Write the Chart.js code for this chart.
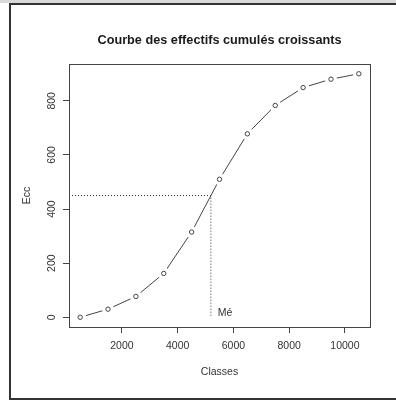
<!DOCTYPE html>
<html>
<head>
<meta charset="utf-8">
<script src="https://cdn.jsdelivr.net/npm/chart.js@4/dist/chart.umd.min.js"></script>
<style>
  html, body { margin: 0; padding: 0; background: #ffffff; }
  #wrap { position: relative; width: 396px; height: 401px; overflow: hidden; }
  #topband { position: absolute; left: 0; top: 0; width: 396px; height: 3px; background: #d9d9d9; }
  #frame { position: absolute; left: 9px; top: 3px; width: 420px; height: 393px;
           border-left: 2px solid #333; border-top: 2px solid #333; border-bottom: 2px solid #333;
           pointer-events: none; }
  canvas { position: absolute; left: 0; top: 0; }
</style>
</head>
<body>
<div id="wrap">
  <div id="topband"></div>
  <canvas id="chart" width="396" height="401"></canvas>
  <div id="frame"></div>
</div>
<script>
// Class centres and cumulative counts (effectifs cumulés croissants)
const classCenters = [500, 1500, 2500, 3500, 4500, 5500, 6500, 7500, 8500, 9500, 10500];
const cumulativeCounts = [0, 30, 77, 162, 315, 510, 678, 783, 849, 880, 900];

// Axis ticks
const xTickValues = [2000, 4000, 6000, 8000, 10000];
const yTickValues = [0, 200, 400, 600, 800];

// Axis limits (data range widened by 4 % on each side)
const xLimits = [100, 10900];
const yLimits = [-36, 936];

// Median reading: half of the total count and its class value
const halfTotal = 450;
const medianValue = 5190;
const medianLabel = 'Mé';

const FONT = '"Liberation Sans", Arial, sans-serif';
const INK = '#333333';

const points = classCenters.map((x, i) => ({ x: x, y: cumulativeCounts[i] }));
const medianPath = [
  { x: xLimits[0], y: halfTotal },
  { x: medianValue, y: halfTotal },
  { x: medianValue, y: 0 }
];

// Plot box and the median label
const boxAndLabel = {
  id: 'boxAndLabel',
  afterDatasetsDraw(chart) {
    const { ctx, chartArea: a, scales } = chart;
    ctx.save();
    ctx.strokeStyle = '#444';
    ctx.lineWidth = 1;
    ctx.strokeRect(Math.round(a.left) + 0.5, Math.round(a.top) + 0.5,
                   Math.round(a.right - a.left), Math.round(a.bottom - a.top));
    ctx.fillStyle = INK;
    ctx.font = '10.5px ' + FONT;
    ctx.textAlign = 'left';
    ctx.textBaseline = 'middle';
    ctx.fillText(medianLabel, scales.x.getPixelForValue(medianValue) + 7,
                 scales.y.getPixelForValue(15));
    ctx.restore();
  }
};

new Chart(document.getElementById('chart'), {
  type: 'line',
  data: {
    datasets: [
      {
        // open circles
        data: points,
        showLine: false,
        pointRadius: 2.2,
        pointHoverRadius: 2.2,
        pointBorderWidth: 1,
        pointBorderColor: '#444',
        pointBackgroundColor: 'rgba(0,0,0,0)',
        order: 0
      },
      {
        // connecting line, broken around each point
        data: points,
        borderColor: '#444',
        borderWidth: 1,
        tension: 0,
        pointRadius: 6,
        pointHoverRadius: 6,
        pointBorderWidth: 0,
        pointBackgroundColor: '#ffffff',
        order: 1
      },
      {
        // dotted median guides
        data: medianPath,
        borderColor: '#333',
        borderWidth: 1,
        borderDash: [1, 2],
        pointRadius: 0,
        tension: 0,
        order: 2
      }
    ]
  },
  plugins: [boxAndLabel],
  options: {
    responsive: false,
    animation: false,
    events: [],
    layout: { padding: { left: 20.4, right: 26, top: 0, bottom: 23 } },
    plugins: {
      legend: { display: false },
      tooltip: { enabled: false },
      title: {
        display: true,
        fullSize: false,
        text: 'Courbe des effectifs cumulés croissants',
        color: '#1a1a1a',
        font: { family: FONT, size: 12.7, weight: 'bold' },
        padding: { top: 32.4, bottom: 16.4 }
      }
    },
    scales: {
      x: {
        type: 'linear',
        min: xLimits[0],
        max: xLimits[1],
        afterBuildTicks(scale) { scale.ticks = xTickValues.map(v => ({ value: v })); },
        afterFit(scale) { scale.height = 51; },
        grid: { drawOnChartArea: false, drawTicks: true, tickLength: 6, color: '#444', tickColor: '#444' },
        border: { display: false },
        ticks: {
          color: INK,
          padding: 6.5,
          maxRotation: 0,
          autoSkip: false,
          font: { family: FONT, size: 10.5 },
          callback: v => String(v)
        },
        title: {
          display: true,
          text: 'Classes',
          color: INK,
          font: { family: FONT, size: 10.5 },
          padding: { top: 0, bottom: 0 }
        }
      },
      y: {
        type: 'linear',
        min: yLimits[0],
        max: yLimits[1],
        afterBuildTicks(scale) { scale.ticks = yTickValues.map(v => ({ value: v })); },
        afterFit(scale) { scale.width = 48.6; },
        grid: { drawOnChartArea: false, drawTicks: true, tickLength: 6, color: '#444', tickColor: '#444' },
        border: { display: false },
        ticks: {
          color: INK,
          padding: 2,
          minRotation: 90,
          maxRotation: 90,
          crossAlign: 'center',
          autoSkip: false,
          font: { family: FONT, size: 10.5 },
          callback: v => String(v)
        },
        title: {
          display: true,
          text: 'Ecc',
          color: INK,
          font: { family: FONT, size: 10.5 },
          padding: { top: 0, bottom: 0 }
        }
      }
    }
  }
});
</script>
</body>
</html>
